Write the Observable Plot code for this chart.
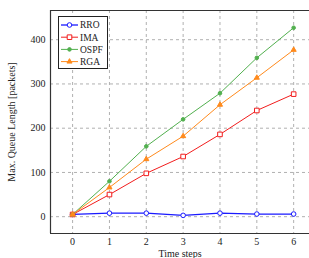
<!DOCTYPE html>
<html><head><meta charset="utf-8">
<script src="https://cdn.jsdelivr.net/npm/d3@7"></script>
<script src="https://cdn.jsdelivr.net/npm/@observablehq/plot@0.6"></script>
<style>
body{margin:0;background:#fff;}
#wrap{position:relative;width:309px;height:258px;overflow:hidden;}
#legend{position:absolute;left:58px;top:16px;width:50px;height:53px;border:1px solid #222;background:#fff;box-sizing:border-box;}
</style></head><body><div id="wrap"><div id="legend"></div></div>
<script>
const steps = [0, 1, 2, 3, 4, 5, 6];
const seriesNames = ["RRO", "IMA", "OSPF", "RGA"];
const rro  = [5, 8, 8, 3, 8, 6, 6];
const ima  = [5, 50, 98, 136, 186, 240, 277];
const ospf = [5, 80, 159, 220, 279, 359, 427];
const rga  = [5, 66, 130, 182, 253, 314, 377];
const xTicks = [0, 1, 2, 3, 4, 5, 6];
const yTicks = [0, 100, 200, 300, 400];
const xDomain = [-0.6, 6.43];
const yDomain = [-38, 466];

const colors = ["#1a1aff", "#f21d1d", "#52b04f", "#ff8a1c"];
const symbols = ["circle", "square", "circle", "triangle"];
const fills = ["#fff", "#fff", null, null];
const radii = [2.3, 2.6, 1.8, 1.9];
const widths = [1.3, 1, 1, 1];
const values = [rro, ima, ospf, rga];

const rows = seriesNames.flatMap((s, i) => steps.map((t, j) => ({series: s, step: t, value: values[i][j]})));

const marks = [
  Plot.ruleX(xTicks, {stroke: "#b0b0b0", strokeDasharray: "3,3"}),
  Plot.ruleY(yTicks, {stroke: "#b0b0b0", strokeDasharray: "3,3"}),
  Plot.ruleX([xDomain[0]], {stroke: "#333", strokeWidth: 1.2}),
  Plot.ruleY(yDomain, {stroke: "#333", strokeWidth: 1.2})
];
seriesNames.forEach((s, i) => {
  const d = rows.filter(r => r.series === s);
  marks.push(Plot.line(d, {x: "step", y: "value", stroke: colors[i], strokeWidth: widths[i]}));
  marks.push(Plot.dot(d, {x: "step", y: "value", symbol: symbols[i], r: radii[i],
    stroke: colors[i], strokeWidth: 1, fill: fills[i] || colors[i]}));
});

const plot = Plot.plot({
  width: 309, height: 258,
  marginLeft: 50, marginRight: 0, marginTop: 10, marginBottom: 25,
  style: {fontFamily: "'Liberation Serif', 'DejaVu Serif', serif", fontSize: "10px", color: "#222", background: "white"},
  x: {domain: xDomain, ticks: xTicks, tickFormat: d => d, tickSize: 0, tickPadding: 4,
      label: "Time steps", labelAnchor: "center", labelOffset: 23, labelArrow: "none"},
  y: {domain: yDomain, ticks: yTicks, tickSize: 0, tickPadding: 5,
      label: "Max. Queue Length [packets]", labelAnchor: "center", labelOffset: 43, labelArrow: "none"},
  marks
});
document.getElementById("wrap").prepend(plot);

// legend
const lg = d3.select("#legend").append("svg").attr("width", 48).attr("height", 51)
  .style("font-family", "'Liberation Serif', serif").style("font-size", "9.5px");
seriesNames.forEach((s, i) => {
  const g = lg.append("g").attr("transform", `translate(0,${8 + i * 12.2})`);
  g.append("line").attr("x1", 2).attr("x2", 19).attr("stroke", colors[i]).attr("stroke-width", widths[i]);
  const sym = d3.symbol().type({circle: d3.symbolCircle, square: d3.symbolSquare, triangle: d3.symbolTriangle}[symbols[i]])
    .size(Math.PI * radii[i] * radii[i]);
  g.append("path").attr("d", sym()).attr("transform", "translate(10.5,0)")
    .attr("stroke", colors[i]).attr("fill", fills[i] || colors[i]);
  g.append("text").attr("x", 21).attr("y", 3.3).attr("fill", "#222").text(s);
});
</script></body></html>
